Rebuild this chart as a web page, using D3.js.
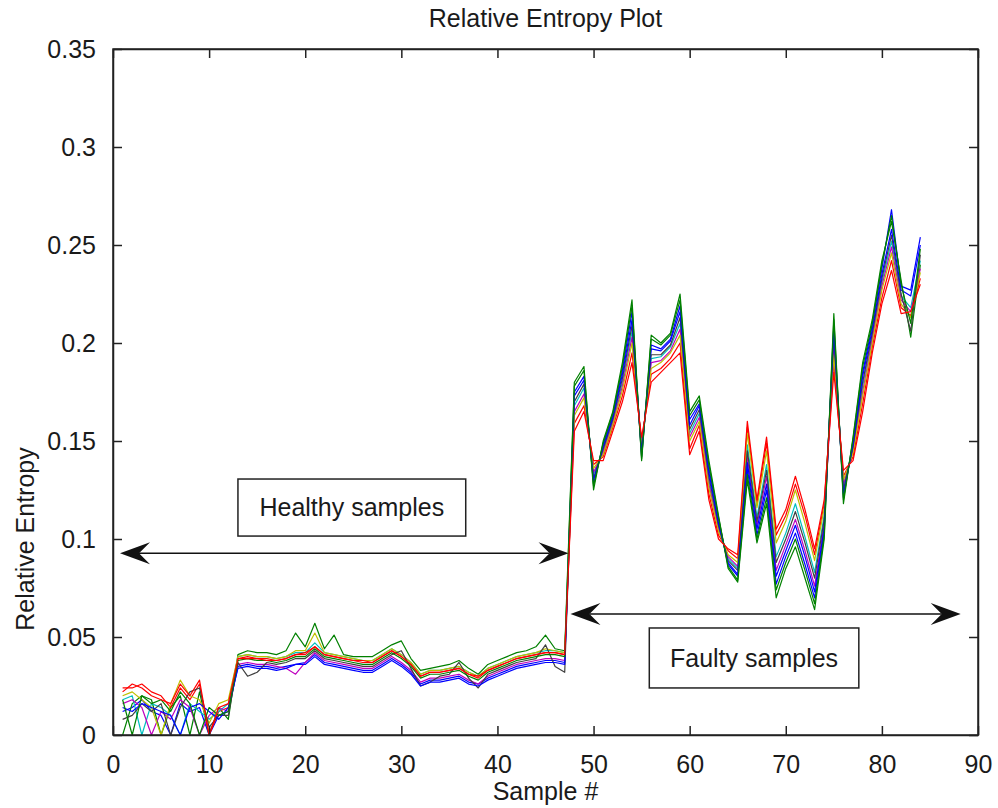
<!DOCTYPE html>
<html>
<head>
<meta charset="utf-8">
<script src="https://cdn.jsdelivr.net/npm/d3@7"></script>
<style>
  body { margin: 0; background: #fff; }
  svg text { font-family: "Liberation Sans", Arial, sans-serif; fill: #1a1a1a; }
  .axis path, .axis line { stroke: #222; stroke-width: 1.5; }
  .series { fill: none; stroke-width: 1.2; stroke-linejoin: round; }
</style>
</head>
<body>
<div id="plot"></div>
<script>
// sample numbers
var samples = [1,2,3,4,5,6,7,8,9,10,11,12,13,14,15,16,17,18,19,20,21,22,23,24,25,26,27,28,29,30,
  31,32,33,34,35,36,37,38,39,40,41,42,43,44,45,46,47,48,49,50,51,52,53,54,55,56,57,58,59,60,
  61,62,63,64,65,66,67,68,69,70,71,72,73,74,75,76,77,78,79,80,81,82,83,84];

// one array per plotted column (matlab colour order b g r c m y k b g r)
var b1 = [.012,.014,.018,.012,.010,.000,.016,.012,.014,.000,.010,.012,
  .035,.036,.035,.035,.034,.035,.036,.037,.041,.037,.036,.035,.034,.033,.033,.036,.039,.036,.032,.026,.028,.028,.029,.030,.027,.026,.029,.031,.033,.035,.036,.037,.038,.038,.037,
  .175,.183,.128,.148,.163,.186,.216,.142,.199,.197,.202,.219,.161,.169,.136,.110,.087,.081,.136,.102,.125,.077,.091,.103,.087,.070,.104,.209,.121,.150,.185,.209,.238,.268,.229,.227,.254];
var g1 = [.000,.016,.020,.018,.000,.014,.020,.000,.022,.000,.014,.008,
  .041,.043,.042,.042,.041,.043,.052,.045,.057,.044,.051,.041,.040,.040,.040,.043,.046,.048,.039,.033,.034,.035,.036,.038,.034,.031,.036,.038,.040,.042,.043,.045,.051,.044,.043,
  .180,.188,.125,.150,.165,.190,.222,.140,.204,.200,.205,.225,.165,.173,.140,.112,.085,.078,.130,.098,.118,.070,.085,.096,.080,.064,.100,.215,.118,.152,.190,.212,.242,.262,.232,.203,.240];
var r1 = [.024,.024,.026,.022,.020,.014,.024,.018,.026,.000,.012,.014,
  .039,.040,.039,.039,.038,.039,.041,.041,.045,.041,.040,.039,.038,.037,.037,.040,.043,.040,.036,.030,.032,.032,.033,.034,.031,.029,.033,.035,.037,.039,.040,.041,.042,.042,.041,
  .159,.168,.138,.142,.157,.173,.195,.150,.184,.187,.192,.200,.146,.158,.123,.102,.094,.090,.157,.118,.149,.102,.112,.128,.112,.092,.118,.190,.132,.142,.169,.198,.223,.242,.218,.214,.233];
var c1 = [.018,.020,.000,.016,.014,.010,.000,.016,.012,.008,.012,.016,
  .040,.041,.040,.040,.039,.040,.042,.042,.047,.042,.041,.040,.039,.038,.038,.041,.044,.041,.037,.031,.033,.033,.034,.035,.032,.030,.034,.036,.038,.040,.041,.042,.043,.043,.042,
  .168,.177,.133,.145,.160,.180,.206,.146,.192,.193,.198,.210,.154,.164,.130,.106,.090,.085,.148,.111,.138,.091,.103,.118,.101,.083,.112,.200,.127,.146,.178,.204,.231,.252,.224,.218,.242];
var m1 = [.016,.018,.014,.000,.012,.008,.018,.014,.000,.010,.014,.012,
  .036,.037,.036,.036,.035,.034,.031,.037,.042,.038,.037,.036,.035,.034,.034,.037,.040,.037,.033,.027,.029,.029,.030,.031,.028,.026,.030,.032,.034,.036,.037,.038,.039,.039,.038,
  .165,.174,.134,.144,.159,.178,.203,.147,.190,.191,.196,.207,.152,.162,.128,.105,.091,.086,.142,.107,.132,.084,.097,.110,.094,.076,.108,.197,.128,.145,.175,.202,.229,.249,.222,.216,.238];
var y1 = [.020,.022,.018,.014,.000,.016,.028,.020,.018,.006,.016,.018,
  .040,.041,.040,.040,.039,.040,.043,.043,.052,.042,.041,.040,.039,.038,.038,.041,.044,.041,.037,.031,.033,.033,.034,.035,.032,.030,.034,.036,.038,.040,.041,.042,.044,.043,.042,
  .163,.172,.136,.143,.158,.176,.200,.148,.187,.190,.195,.204,.150,.160,.126,.104,.092,.088,.154,.116,.145,.098,.109,.125,.108,.089,.116,.194,.130,.144,.173,.200,.227,.246,.220,.213,.236];
var k1 = [.008,.010,.016,.012,.016,.000,.014,.022,.024,.004,.010,.010,
  .037,.030,.032,.037,.036,.037,.039,.039,.043,.039,.038,.037,.036,.035,.035,.038,.041,.043,.034,.025,.027,.030,.031,.037,.029,.024,.031,.033,.035,.037,.038,.039,.046,.035,.032,
  .170,.179,.131,.146,.161,.182,.209,.145,.194,.194,.199,.213,.156,.166,.132,.107,.089,.084,.145,.109,.135,.088,.100,.114,.098,.080,.110,.203,.125,.147,.180,.205,.233,.255,.225,.206,.245];
var b2 = [.014,.012,.016,.014,.012,.010,.000,.014,.016,.012,.008,.014,
  .034,.035,.034,.034,.033,.034,.036,.036,.040,.036,.035,.034,.033,.032,.032,.035,.038,.035,.031,.025,.027,.027,.028,.029,.026,.025,.028,.030,.032,.034,.035,.036,.037,.037,.036,
  .173,.181,.130,.147,.162,.184,.212,.144,.197,.196,.201,.216,.158,.168,.134,.108,.088,.082,.139,.105,.128,.081,.094,.107,.091,.073,.106,.206,.123,.148,.183,.207,.235,.258,.227,.224,.250];
var g2 = [.018,.000,.020,.016,.018,.012,.022,.016,.000,.014,.010,.012,
  .038,.039,.038,.038,.037,.038,.040,.040,.044,.040,.039,.038,.037,.036,.036,.039,.042,.039,.035,.029,.031,.031,.032,.033,.030,.028,.032,.034,.036,.038,.039,.040,.041,.041,.040,
  .178,.186,.127,.149,.164,.188,.219,.141,.202,.199,.204,.222,.163,.171,.138,.111,.086,.079,.133,.100,.121,.074,.088,.100,.084,.067,.102,.212,.120,.151,.188,.210,.240,.265,.230,.210,.248];
var r2 = [.022,.026,.024,.020,.018,.016,.026,.020,.028,.000,.014,.016,
  .039,.039,.039,.038,.038,.039,.041,.042,.045,.041,.040,.039,.038,.038,.037,.040,.043,.040,.036,.030,.032,.032,.033,.034,.031,.030,.033,.035,.037,.039,.040,.041,.042,.042,.041,
  .155,.165,.140,.140,.155,.170,.190,.152,.180,.185,.190,.195,.143,.155,.120,.100,.095,.092,.160,.120,.152,.105,.115,.132,.115,.095,.120,.185,.135,.140,.165,.195,.220,.237,.215,.216,.230];

var seriesList = [b1, g1, r1, c1, m1, y1, k1, b2, g2, r2];
var seriesColors = ["#0000ff", "#008000", "#ff0000", "#00bfbf", "#bf00bf", "#bfbf00", "#404040", "#0000ff", "#008000", "#ff0000"];

var xTicks = [0, 10, 20, 30, 40, 50, 60, 70, 80, 90];
var yTicks = [0, 0.05, 0.1, 0.15, 0.2, 0.25, 0.3, 0.35];

// annotations (data units)
var healthyArrow = {x1: 0.73, x2: 47.4, y: 0.0927};
var faultyArrow = {x1: 47.6, x2: 88.2, y: 0.0617};
var healthyBox = {x1: 13.0, x2: 36.7, y1: 0.1306, y2: 0.1015, label: "Healthy samples"};
var faultyBox = {x1: 55.8, x2: 77.6, y1: 0.0546, y2: 0.0240, label: "Faulty samples"};

var W = 998, H = 808;
var margin = {top: 49, right: 20, bottom: 73, left: 113};
var width = W - margin.left - margin.right,
    height = H - margin.top - margin.bottom;

var svg = d3.select("#plot").append("svg")
  .attr("width", W)
  .attr("height", H);

svg.append("rect").attr("width", W).attr("height", H).attr("fill", "#fff");

var g = svg.append("g")
  .attr("transform", "translate(" + margin.left + "," + margin.top + ")");

var x = d3.scaleLinear().domain([0, 90]).range([0, width]);
var y = d3.scaleLinear().domain([0, 0.35]).range([height, 0]);

var fmt = d3.format(".2~f");

// data lines
var line = d3.line()
  .x(function(d, i) { return x(samples[i]); })
  .y(function(d) { return y(d); });

g.append("g").selectAll("path")
  .data(seriesList).enter()
  .append("path")
  .attr("class", "series")
  .attr("stroke", function(d, i) { return seriesColors[i]; })
  .attr("d", line);

// box + ticks on all four sides, pointing inward
var fontSize = "25px";
var xAxis = g.append("g").attr("class", "axis")
  .attr("transform", "translate(0," + height + ")")
  .call(d3.axisBottom(x).tickValues(xTicks).tickSizeInner(-9).tickSizeOuter(0).tickPadding(20).tickFormat(fmt));
var xTop = g.append("g").attr("class", "axis")
  .call(d3.axisTop(x).tickValues(xTicks).tickSizeInner(-9).tickSizeOuter(0).tickFormat(""));
var yAxis = g.append("g").attr("class", "axis")
  .call(d3.axisLeft(y).tickValues(yTicks).tickSizeInner(-9).tickSizeOuter(0).tickPadding(17).tickFormat(fmt));
var yRight = g.append("g").attr("class", "axis")
  .attr("transform", "translate(" + width + ",0)")
  .call(d3.axisRight(y).tickValues(yTicks).tickSizeInner(-9).tickSizeOuter(0).tickFormat(""));

g.selectAll(".axis text").style("font-size", fontSize).attr("fill", "#1a1a1a");

g.append("rect")
  .attr("width", width).attr("height", height)
  .attr("fill", "none").attr("stroke", "#222").attr("stroke-width", 1.5);

// title and labels
svg.append("text")
  .attr("x", margin.left + width / 2)
  .attr("y", 27)
  .attr("text-anchor", "middle")
  .style("font-size", fontSize)
  .text("Relative Entropy Plot");

svg.append("text")
  .attr("x", margin.left + width / 2)
  .attr("y", 800)
  .attr("text-anchor", "middle")
  .style("font-size", fontSize)
  .text("Sample #");

svg.append("text")
  .attr("transform", "translate(34," + (margin.top + y(0.1)) + ") rotate(-90)")
  .attr("text-anchor", "middle")
  .style("font-size", fontSize)
  .text("Relative Entropy");

// double arrows with swept back heads
var headPath = "M0,0L30,-11L19,0L30,11Z";

function doubleArrow(a) {
  var ya = y(a.y);
  g.append("line")
    .attr("x1", x(a.x1) + 19).attr("x2", x(a.x2) - 19)
    .attr("y1", ya).attr("y2", ya)
    .attr("stroke", "#111").attr("stroke-width", 1.5);
  g.append("path")
    .attr("d", headPath)
    .attr("transform", "translate(" + x(a.x1) + "," + ya + ")")
    .attr("fill", "#111");
  g.append("path")
    .attr("d", headPath)
    .attr("transform", "translate(" + x(a.x2) + "," + ya + ") rotate(180)")
    .attr("fill", "#111");
}

function labelBox(b) {
  g.append("rect")
    .attr("x", x(b.x1)).attr("y", y(b.y1))
    .attr("width", x(b.x2) - x(b.x1))
    .attr("height", y(b.y2) - y(b.y1))
    .attr("fill", "#fff").attr("stroke", "#222").attr("stroke-width", 1.5);
  g.append("text")
    .attr("x", (x(b.x1) + x(b.x2)) / 2)
    .attr("y", (y(b.y1) + y(b.y2)) / 2)
    .attr("dy", "0.35em")
    .attr("text-anchor", "middle")
    .style("font-size", fontSize)
    .text(b.label);
}

doubleArrow(healthyArrow);
doubleArrow(faultyArrow);
labelBox(healthyBox);
labelBox(faultyBox);
</script>
</body>
</html>
